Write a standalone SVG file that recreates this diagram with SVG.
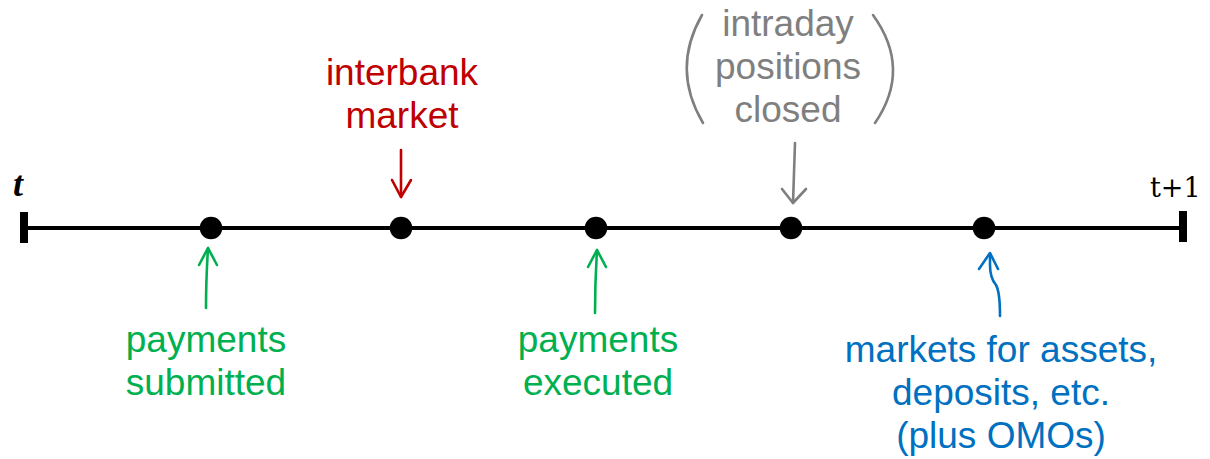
<svg xmlns="http://www.w3.org/2000/svg" width="1210" height="459" viewBox="0 0 1210 459">
  <style>
    .lbl { font-family: "Liberation Sans", Arial, sans-serif; font-size: 37px; text-anchor: middle; }
    .arr { fill: none; stroke-width: 2.6; stroke-linecap: round; stroke-linejoin: round; }
    .green { fill: #00B050; }
    .red { fill: #C00000; }
    .gray { fill: #7F7F7F; }
    .blue { fill: #0070C0; }
    .tick { font-family: "Liberation Serif", "Times New Roman", serif; }
  </style>

  <!-- timeline axis -->
  <g id="axis">
    <line x1="24" y1="228" x2="1183" y2="228" stroke="#000" stroke-width="4"/>
    <rect x="20" y="212" width="8" height="31" fill="#000"/>
    <rect x="1179" y="211" width="8" height="31" fill="#000"/>
    <text class="tick" x="13" y="196" font-size="36" font-weight="bold" font-style="italic">t</text>
    <text x="1150" y="197" font-family="'DejaVu Serif', serif" font-size="27">t+1</text>
  </g>

  <!-- event points -->
  <g id="dots" fill="#000">
    <circle id="dot-submitted" cx="211" cy="228" r="11.3"/>
    <circle id="dot-interbank" cx="401" cy="228" r="11.3"/>
    <circle id="dot-executed" cx="596" cy="228" r="11.3"/>
    <circle id="dot-closed" cx="791" cy="228" r="11.3"/>
    <circle id="dot-markets" cx="984" cy="228" r="11.3"/>
  </g>

  <g id="node-interbank">
    <text class="lbl red" x="402" y="85">interbank</text>
    <text class="lbl red" x="402" y="128">market</text>
  </g>

  <g id="node-closed">
    <text class="lbl gray" x="788" y="36">intraday</text>
    <text class="lbl gray" x="788" y="79">positions</text>
    <text class="lbl gray" x="788" y="122">closed</text>
    <path d="M702,15 Q671,69 703,123" fill="none" stroke="#7F7F7F" stroke-width="2.6" stroke-linecap="round"/>
    <path d="M873,15 Q912,69 875,123" fill="none" stroke="#7F7F7F" stroke-width="2.6" stroke-linecap="round"/>
  </g>

  <g id="node-submitted">
    <text class="lbl green" x="206" y="352">payments</text>
    <text class="lbl green" x="206" y="395">submitted</text>
  </g>

  <g id="node-executed">
    <text class="lbl green" x="598" y="352">payments</text>
    <text class="lbl green" x="598" y="395">executed</text>
  </g>

  <g id="node-markets">
    <text class="lbl blue" x="1001" y="362">markets for assets,</text>
    <text class="lbl blue" x="1001" y="405">deposits, etc.</text>
    <text class="lbl blue" x="1001" y="448">(plus OMOs)</text>
  </g>

  <!-- hand-drawn pointers -->
  <g id="connectors" class="arr">
    <g stroke="#C00000">
      <path d="M401,150 L401,197"/>
      <path d="M392,180 L401,197 L411,180"/>
    </g>
    <g stroke="#7F7F7F">
      <path d="M795,143 Q794,175 793,203"/>
      <path d="M782,189 L793,203 L806,189"/>
    </g>
    <g stroke="#00B050">
      <path d="M206,308 Q206,280 208,248"/>
      <path d="M199,265 L208,248 L217,265"/>
      <path d="M595,313 Q595,282 597,250"/>
      <path d="M588,267 L597,250 L606,267"/>
    </g>
    <g stroke="#0070C0">
      <path d="M1000,316 Q1000,292 996,285 Q990,278 990,265 L990,254"/>
      <path d="M979,269 L990,253 L998,269"/>
    </g>
  </g>
</svg>
